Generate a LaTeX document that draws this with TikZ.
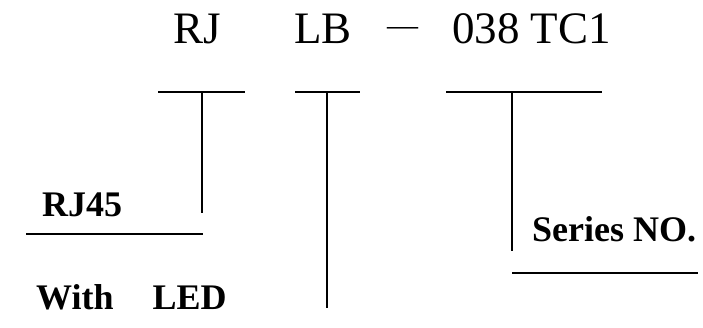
\documentclass[tikz,border=0pt]{standalone}
\usepackage{fontspec}
\setmainfont{Liberation Serif}
\newfontfamily\tnr{Liberation Serif}
\usetikzlibrary{calc}
\tikzset{>=latex}

\begin{document}
\begin{tikzpicture}[x=1pt, y=-1pt,
  codetext/.style={inner sep=0pt, anchor=base west, font=\tnr\fontsize{45}{50}\selectfont},
  labeltext/.style={inner sep=0pt, anchor=base west, font=\tnr\bfseries\fontsize{36}{40}\selectfont},
  bar/.style={draw=black, line width=1.8pt}]
  \useasboundingbox (0,0) rectangle (703,327);
  % part number
  \node [codetext] (rj) at (173,43) {RJ};
  \node [codetext] (lb) at (294,43) {LB};
  \node [inner sep=0pt, anchor=base west, font=\tnr\fontsize{31}{34}\selectfont] (dash) at (387,35) {—};
  \node [codetext] (series) at (452,43) {038 TC1};
  % the three brackets
  \coordinate (t1l) at (158,92); \coordinate (t1r) at (245,92);
  \coordinate (t1) at (202,92); \coordinate (t1e) at (202,213);
  \coordinate (t2l) at (295,92); \coordinate (t2r) at (360,92);
  \coordinate (t2) at (327,92); \coordinate (t2e) at (327,308);
  \coordinate (t3l) at (446,92); \coordinate (t3r) at (602,92);
  \coordinate (t3) at (512,92); \coordinate (t3e) at (512,251);
  \draw [bar] (t1l) -- (t1r) (t1) -- (t1e);
  \draw [bar] (t2l) -- (t2r) (t2) -- (t2e);
  \draw [bar] (t3l) -- (t3r) (t3) -- (t3e);
  % labels
  \node [labeltext] (rj45) at (42,216) {RJ45};
  \coordinate (u1l) at (26,234); \coordinate (u1r) at (203,234);
  \draw [bar] (u1l) -- (u1r);
  \node [labeltext] (led) at (36,309) {With\hspace{39pt}LED};
  \node [labeltext] (serno) at (532,241) {Series NO.};
  \coordinate (u3l) at (512,273); \coordinate (u3r) at (698,273);
  \draw [bar] (u3l) -- (u3r);
\end{tikzpicture}
\end{document}
